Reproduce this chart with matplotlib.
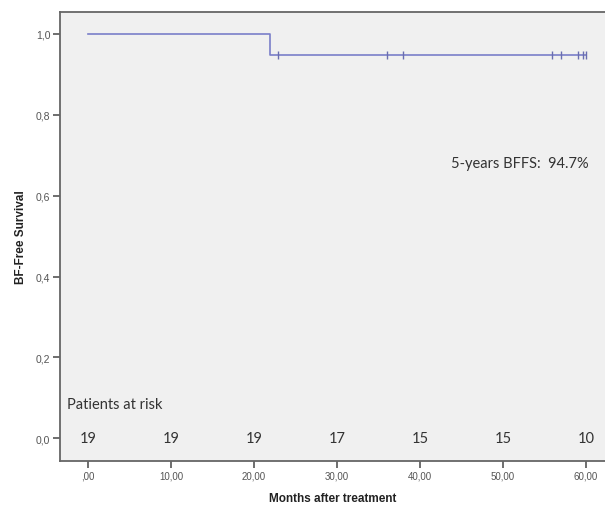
import matplotlib
matplotlib.use("Agg")
import matplotlib.pyplot as plt

# Kaplan-Meier step data
step_times = [0, 21.9, 21.9, 60.0]
step_surv = [1.0, 1.0, 0.947, 0.947]
censor_times = [22.9, 36.0, 37.9, 55.9, 57.0, 59.0, 59.6, 60.0]
censor_surv = [0.947] * len(censor_times)

risk_times = [0, 10, 20, 30, 40, 50, 60]
risk_counts = [19, 19, 19, 17, 15, 15, 10]

xticks = [0, 10, 20, 30, 40, 50, 60]
xtick_labels = [",00", "10,00", "20,00", "30,00", "40,00", "50,00", "60,00"]
yticks = [0.0, 0.2, 0.4, 0.6, 0.8, 1.0]
ytick_labels = ["0,0", "0,2", "0,4", "0,6", "0,8", "1,0"]

fig = plt.figure(figsize=(6.05, 5.06), dpi=100)
ax = fig.add_axes([60/605, 1-462/506, 545/605, (462-13)/506])
ax.set_facecolor("#f0f0f0")

line_color = "#7a7fc9"
ax.plot(step_times, step_surv, color=line_color, lw=1.2)
ax.plot(censor_times, censor_surv, ls="none", marker="|", ms=6, mew=1.0, color="#6a6eb0")

for t, n in zip(risk_times, risk_counts):
    ax.text(t, 0.0, str(n), ha="center", va="center", fontsize=10.5,
            family="Lato", color="#333333")
ax.text(-2.5, 0.084, "Patients at risk", ha="left", va="center", fontsize=10.5,
        family="Lato", color="#333333")
ax.text(43.7, 0.68, "5-years BFFS:  94.7%", ha="left", va="center", fontsize=10.5,
        family="Lato", color="#333333")

ax.set_xlim(-3.37, 62.3)
ax.set_ylim(-0.056, 1.054)
ax.set_xticks(xticks)
ax.set_xticklabels(xtick_labels, fontsize=7, family="Liberation Sans", color="#555555")
ax.set_yticks(yticks)
ax.set_yticklabels(ytick_labels, fontsize=7.5, family="Liberation Sans", color="#555555")
ax.tick_params(axis="both", length=5, width=1.2, color="#555555", pad=2)
for s in ["left", "bottom", "top"]:
    ax.spines[s].set_color("#666666")
    ax.spines[s].set_linewidth(1.3)
ax.spines["right"].set_visible(False)

ax.set_xlabel("Months after treatment", fontsize=8.5, fontweight="bold",
              family="Liberation Sans", color="#222222", labelpad=8)
ax.set_ylabel("BF-Free Survival", fontsize=8.5, fontweight="bold",
              family="Liberation Sans", color="#222222", labelpad=6)

fig.savefig("out.png", dpi=100, facecolor="white")
